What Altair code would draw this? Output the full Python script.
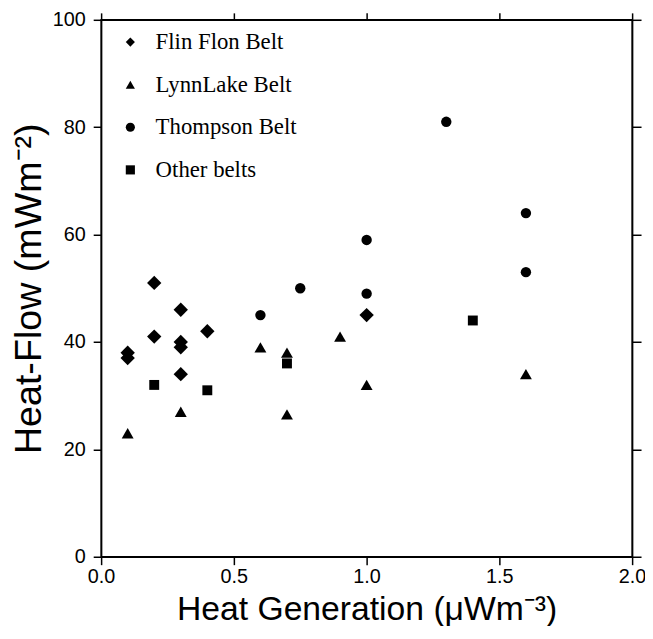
import altair as alt
import pandas as pd

belts = ["Flin Flon Belt", "LynnLake Belt", "Thompson Belt", "Other belts"]

flin_x = [0.1, 0.1, 0.2, 0.2, 0.3, 0.3, 0.3, 0.3, 0.4, 1.0]
flin_y = [38, 37, 51, 41, 46, 40, 39, 34, 42, 45]
lynn_x = [0.1, 0.3, 0.6, 0.7, 0.7, 0.9, 1.0, 1.6]
lynn_y = [23, 27, 39, 38, 26.5, 41, 32, 34]
thom_x = [0.6, 0.75, 1.0, 1.0, 1.3, 1.6, 1.6]
thom_y = [45, 50, 59, 49, 81, 64, 53]
other_x = [0.2, 0.4, 0.7, 1.4]
other_y = [32, 31, 36, 44]

x_ticks = [0.0, 0.5, 1.0, 1.5, 2.0]
y_ticks = [0, 20, 40, 60, 80, 100]

rows = []
for name, xs, ys in [
    (belts[0], flin_x, flin_y),
    (belts[1], lynn_x, lynn_y),
    (belts[2], thom_x, thom_y),
    (belts[3], other_x, other_y),
]:
    for a, b in zip(xs, ys):
        rows.append({"hg": a, "hf": b, "belt": name})
df = pd.DataFrame(rows)

x_scale = alt.Scale(domain=[0, 2], nice=False, zero=False)
y_scale = alt.Scale(domain=[0, 100], nice=False)

axis_common = dict(
    labelFont="Liberation Sans",
    labelFontSize=20,
    labelColor="black",
    labelFlush=False,
    titleFont="Liberation Sans",
    titleFontWeight="normal",
    titleColor="black",
    domainColor="black",
    domainWidth=1.5,
    tickColor="black",
    tickWidth=1.5,
    grid=False,
)

size_expr = (
    "datum.belt == 'Flin Flon Belt' ? 210 : "
    "datum.belt == 'LynnLake Belt' ? 144 : "
    "datum.belt == 'Thompson Belt' ? 110 : 100"
)

points = alt.Chart(df).transform_calculate(sz=size_expr).mark_point(
    filled=True, opacity=1, color="black"
).encode(
    x=alt.X(
        "hg:Q",
        scale=x_scale,
        axis=alt.Axis(
            values=x_ticks,
            format=".1f",
            title="Heat Generation (μWm⁻³)",
            titleFontSize=34,
            tickSize=8,
            labelPadding=2,
            titlePadding=6,
            **axis_common,
        ),
    ),
    y=alt.Y(
        "hf:Q",
        scale=y_scale,
        axis=alt.Axis(
            values=y_ticks,
            title="Heat-Flow (mWm⁻²)",
            titleFontSize=38,
            tickSize=8,
            labelPadding=8,
            titlePadding=4,
            **axis_common,
        ),
    ),
    shape=alt.Shape(
        "belt:N",
        scale=alt.Scale(domain=belts, range=["diamond", "triangle-up", "circle", "square"]),
        legend=alt.Legend(
            title=None,
            orient="none",
            legendX=18,
            legendY=11,
            padding=0,
            labelFont="Liberation Serif",
            labelFontSize=23,
            labelColor="black",
            labelOffset=14,
            rowPadding=19,
            symbolSize=85,
            symbolFillColor="black",
            symbolStrokeColor="black",
        ),
    ),
    size=alt.Size("sz:Q", scale=None, legend=None),
)

frame = alt.Chart(df).mark_point(opacity=0).encode(
    x=alt.X(
        "hg:Q",
        scale=x_scale,
        axis=alt.Axis(orient="top", values=x_ticks, labels=False, title=None, tickSize=7,
                      domainColor="black", domainWidth=1.5, tickColor="black", tickWidth=1.5, grid=False),
    ),
    y=alt.Y(
        "hf:Q",
        scale=y_scale,
        axis=alt.Axis(orient="right", values=y_ticks, labels=False, title=None, tickSize=9,
                      domainColor="black", domainWidth=1.5, tickColor="black", tickWidth=1.5, grid=False),
    ),
)

chart = (
    alt.layer(points, frame)
    .resolve_axis(x="independent", y="independent")
    .properties(
        width=536,
        height=542,
        padding={"left": 94, "top": 9, "right": 13, "bottom": 67},
        autosize=alt.AutoSizeParams(type="none"),
        background="white",
    )
    .configure_view(stroke="black", strokeWidth=1.5)
)

chart.save("out.html", embed_options={"renderer": "svg", "actions": False})
